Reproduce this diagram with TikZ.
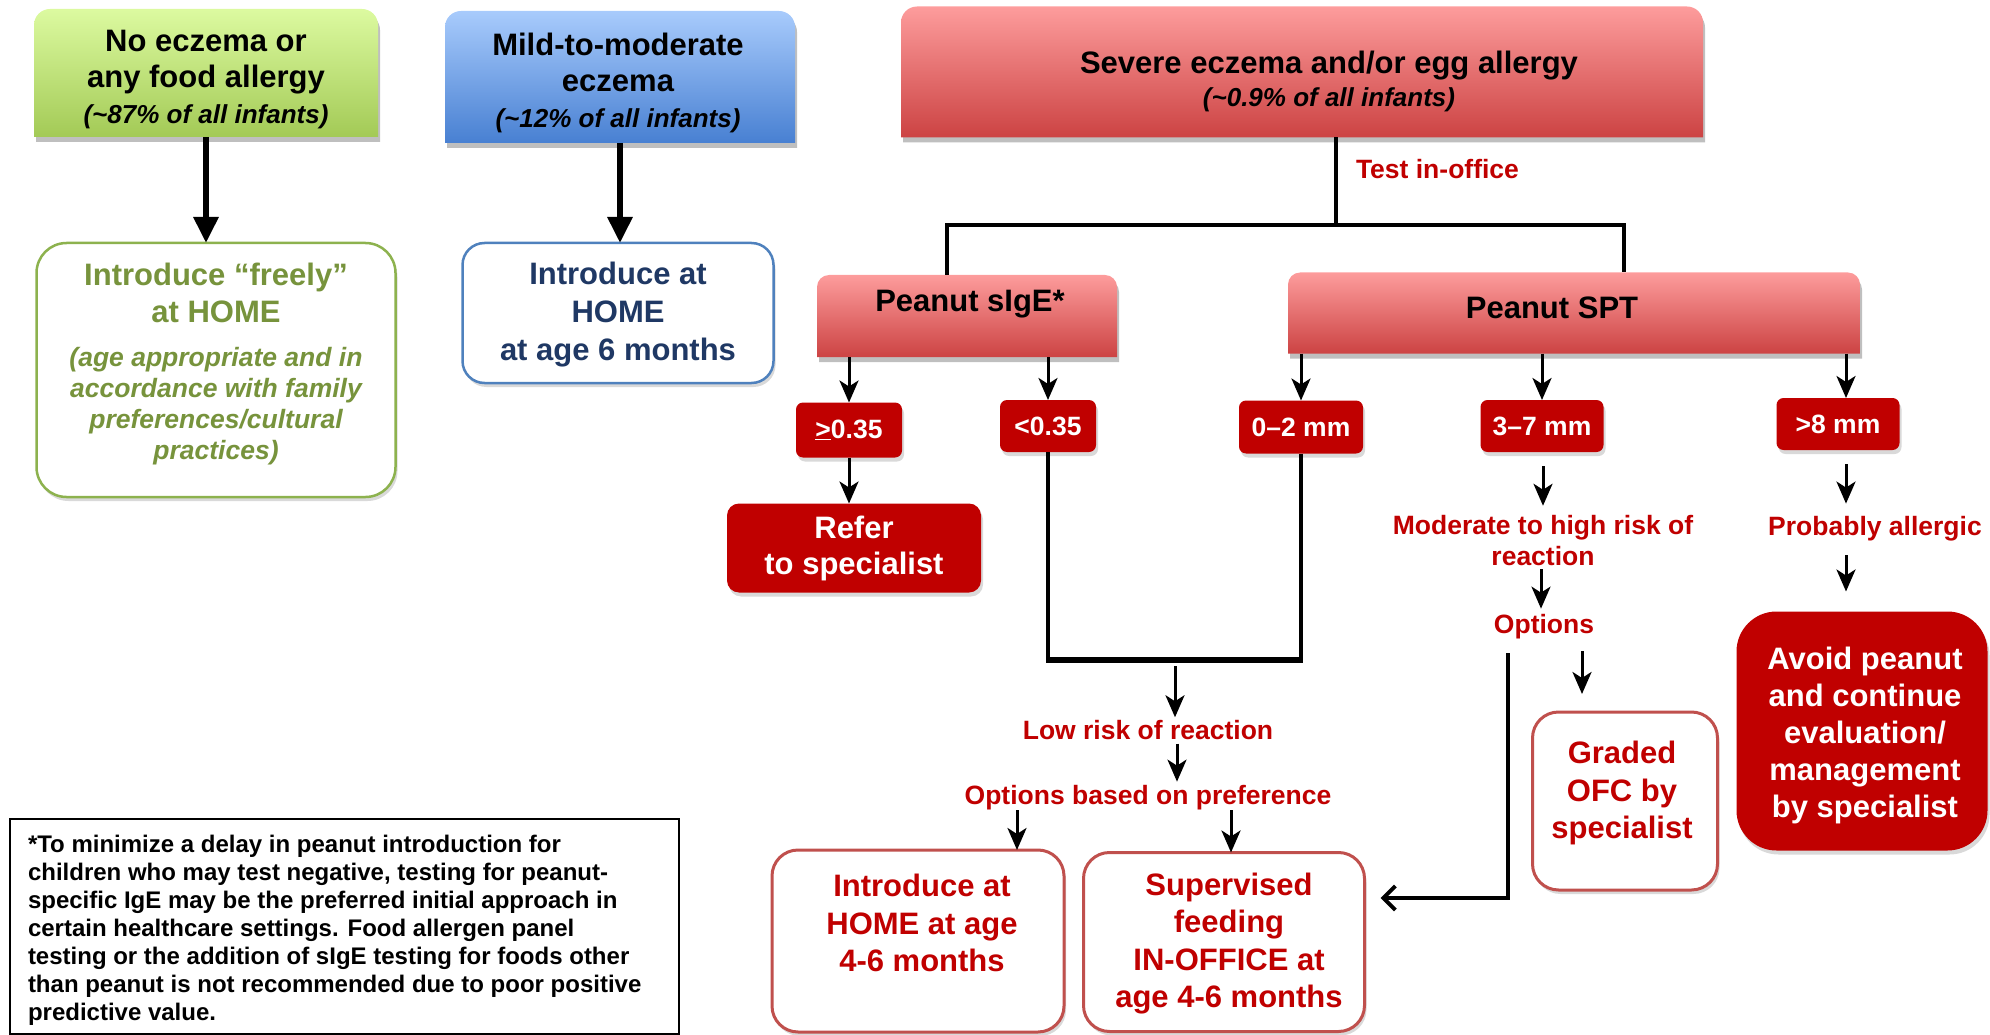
\documentclass[tikz,border=0pt]{standalone}
\usepackage{fontspec}
\setmainfont{Liberation Sans}
\usetikzlibrary{arrows.meta,shadows,calc}

\definecolor{dred}{HTML}{C00000}
\definecolor{bred}{HTML}{C0504D}
\definecolor{olive}{HTML}{77933C}
\definecolor{navy}{HTML}{1F3864}
\definecolor{gtop}{HTML}{DCFAA0}
\definecolor{gbot}{HTML}{A3CA56}
\definecolor{btop}{HTML}{A8CBFC}
\definecolor{bbot}{HTML}{4880D2}
\definecolor{rtop}{HTML}{FD9C9C}
\definecolor{rbot}{HTML}{CC4343}
\definecolor{gline}{HTML}{8DB24E}
\definecolor{bline}{HTML}{4F81BD}

\begin{document}
\begin{tikzpicture}[x=1pt,y=-1pt,
  every node/.style={inner sep=0pt,outer sep=0pt},
  hidden/.style={draw=none,fill=none,rectangle},
  shad/.style={drop shadow={shadow xshift=2pt,shadow yshift=-5pt,opacity=0.25,fill=black}},
  lshad/.style={drop shadow={shadow xshift=2pt,shadow yshift=-4pt,opacity=0.15,fill=black}},
  big/.style={font=\bfseries\fontsize{31}{36}\selectfont,align=center},
  sml/.style={font=\bfseries\fontsize{26.5}{31}\selectfont,align=center},
  redlab/.style={sml,text=dred},
  darkbox/.style={rectangle,fill=dred,text=white,rounded corners=7pt,lshad},
  outbox/.style={rectangle,draw=bred,line width=3pt,fill=white,rounded corners=26pt,lshad},
  line/.style={line width=4pt,black},
  arr/.style={line width=3pt,black,-{Stealth[length=22pt,width=19pt,inset=6pt]}},
  bigarr/.style={line width=6pt,black,-{Triangle[length=26pt,width=24pt]}},
]
\useasboundingbox (0,0) rectangle (1990,1035);

% ---------- gradient boxes ----------
\node[hidden,minimum width=344pt,minimum height=128pt] (g1) at (206,73) {};
\shade[shad,top color=gtop,bottom color=gbot,rounded corners=16pt]
  (g1.south west) -- (g1.north west) -- (g1.north east) -- (g1.south east);
\node[big] (g1t) at (206,80) {No eczema or\\any food allergy\\{\itshape\fontsize{26}{30}\selectfont (\textasciitilde87\% of all infants)}};

\node[hidden,minimum width=350pt,minimum height=132pt] (b1) at (620,77) {};
\shade[shad,top color=btop,bottom color=bbot,rounded corners=16pt]
  (b1.south west) -- (b1.north west) -- (b1.north east) -- (b1.south east);
\node[big] (b1t) at (618,83) {Mild-to-moderate\\eczema\\{\itshape\fontsize{26}{30}\selectfont (\textasciitilde12\% of all infants)}};

\node[hidden,minimum width=802pt,minimum height=131pt] (sev) at (1302,72) {};
\shade[shad,top color=rtop,bottom color=rbot,rounded corners=16pt]
  (sev.south west) -- (sev.north west) -- (sev.north east) -- (sev.south east);
\node[big,align=center] (sevt) at (1329,81) {Severe eczema and/or egg allergy\\[-3pt]{\itshape\fontsize{26}{30}\selectfont (\textasciitilde0.9\% of all infants)}};

\node[hidden,minimum width=300pt,minimum height=82pt] (sige) at (967,316) {};
\shade[shad,top color=rtop,bottom color=rbot,rounded corners=12pt]
  (sige.south west) -- (sige.north west) -- (sige.north east) -- (sige.south east);
\node[big] (siget) at (970,304) {Peanut sIgE*};

\node[hidden,minimum width=572pt,minimum height=81pt] (spt) at (1574,313) {};
\shade[shad,top color=rtop,bottom color=rbot,rounded corners=12pt]
  (spt.south west) -- (spt.north west) -- (spt.north east) -- (spt.south east);
\node[big] (sptt) at (1552,308) {Peanut SPT};

% ---------- left outcome boxes ----------
\node[rectangle,draw=gline,line width=2.5pt,fill=white,rounded corners=30pt,lshad,
      minimum width=359pt,minimum height=254pt] (intro) at (216,370) {};
\node[big,text=olive,font=\bfseries\fontsize{31}{37}\selectfont] (introt) at (216,293) {Introduce “freely”\\at HOME};
\node[sml,text=olive,font=\bfseries\itshape\fontsize{26.5}{31}\selectfont] (introi) at (216,406)
  {(age appropriate and in\\accordance with family\\preferences/cultural\\practices)};

\node[rectangle,draw=bline,line width=2.5pt,fill=white,rounded corners=22pt,lshad,
      minimum width=311pt,minimum height=140pt] (navy) at (618,313) {};
\node[big,text=navy,font=\bfseries\fontsize{31}{38}\selectfont] (navyt) at (618,315) {Introduce at\\HOME\\at age 6 months};

\draw[bigarr] (g1.south) -- (g1.south |- intro.north);
\draw[bigarr] (b1.south) -- (b1.south |- navy.north);

% ---------- test label and tree ----------
\node[redlab,anchor=west] (test) at (1356,169) {Test in-office};
\coordinate (tk) at (1336,225);
\coordinate (bl) at (947,225);
\coordinate (br) at (1624,225);
\draw[line] (sev.south -| tk) -- (tk);
\draw[line] (sige.north -| bl) -- (bl) -- (br) -- (spt.north -| br);

% ---------- small result boxes ----------
\node[darkbox,sml,minimum width=106pt,minimum height=55pt] (ge) at (849,430) {\underline{>}0.35};
\node[darkbox,sml,minimum width=96pt,minimum height=52pt] (lt) at (1048,426) {<0.35};
\node[darkbox,sml,minimum width=124pt,minimum height=53pt] (z2) at (1301,427) {\raisebox{-3pt}{0–2 mm}};
\node[darkbox,sml,minimum width=123pt,minimum height=52pt] (t37) at (1542,426) {3–7 mm};
\node[darkbox,sml,minimum width=123pt,minimum height=52pt] (g8) at (1838,424) {>8 mm};
\coordinate (xg) at (1846,0);

\draw[arr] (sige.south -| ge) -- (ge.north);
\draw[arr] (sige.south -| lt) -- (lt.north);
\draw[arr] (spt.south -| z2) -- (z2.north);
\draw[arr] (spt.south -| t37) -- (t37.north);
\draw[arr] (spt.south -| xg) -- (g8.north -| xg);

% refer
\node[darkbox,big,rounded corners=12pt,minimum width=254pt,minimum height=89pt] (refer) at (854,548) {Refer\\to specialist};
\draw[arr] (ge.south) -- (ge.south |- refer.north);

% low-risk branch
\coordinate (jn) at (1175,660);
\draw[line,line width=3.5pt] (lt.south) -- (lt.south |- jn);
\draw[line,line width=3.5pt] (z2.south) -- (z2.south |- jn);
\draw[line width=6pt] ([xshift=-1.75pt]lt.south |- jn) -- ([xshift=1.75pt]z2.south |- jn);
\node[redlab] (low) at (1148,730) {Low risk of reaction};
\node[redlab] (opts) at (1148,798) {Options based on preference};
\draw[arr,shorten <=6pt,shorten >=3pt] (jn) -- (jn |- low.north);
\coordinate (xl) at (1177,0);
\draw[arr,shorten <=4pt,shorten >=4pt] (low.south -| xl) -- (opts.north -| xl);

\node[outbox,minimum width=292pt,minimum height=182pt] (home) at (918,941) {};
\node[big,text=dred,font=\bfseries\fontsize{31}{37.5}\selectfont] (homet) at (922,923) {Introduce at\\HOME at age\\4-6 months};
\node[outbox,minimum width=281pt,minimum height=179pt] (sup) at (1224,942) {};
\node[big,text=dred,font=\bfseries\fontsize{31}{37.5}\selectfont] (supt) at (1229,943.5) {Supervised\\feeding\\IN-OFFICE at\\age 4-6 months};
\coordinate (xa) at (1017,0);
\coordinate (xb) at (1231,0);
\draw[arr] (opts.south -| xa) -- (home.north -| xa);
\draw[arr] (opts.south -| xb) -- (sup.north -| xb);

% 3-7 mm branch
\node[redlab] (mod) at (1543,541) {Moderate to high risk of\\reaction};
\node[redlab] (opt2) at (1544,627) {Options};
\draw[arr,shorten <=14pt,shorten >=10pt] (t37.south -| mod) -- (mod.north);
\coordinate (xm) at (1541,0);
\draw[arr,shorten <=3pt,shorten >=6pt] (mod.south -| xm) -- (opt2.north -| xm);
\node[outbox,minimum width=185pt,minimum height=178pt] (ofc) at (1625,801) {};
\node[big,text=dred,font=\bfseries\fontsize{31}{37.5}\selectfont] (ofct) at (1622,793) {Graded\\OFC by\\specialist};
\coordinate (xo) at (1582,0);
\draw[arr,shorten <=12pt,shorten >=18pt] (opt2.south -| xo) -- (ofc.north -| xo);
\coordinate (cr) at (1508,898);
\draw[line width=4pt,-{Straight Barb[length=12pt,width=24pt]}]
  ([yshift=-14pt]opt2.south -| cr) -- (cr) -- ([xshift=16pt]sup.east |- cr);

% >8 mm branch
\node[redlab] (prob) at (1875,529) {Probably allergic};
\draw[arr,shorten <=14pt,shorten >=13pt] (g8.south -| xg) -- (prob.north -| xg);
\node[darkbox,big,rounded corners=40pt,minimum width=251pt,minimum height=239pt] (avoid) at (1862,731) {};
\node[big,text=white,font=\bfseries\fontsize{31}{37}\selectfont] (avoidt) at (1865,735) {Avoid peanut\\and continue\\evaluation/\\management\\by specialist};
\draw[arr,shorten <=14pt,shorten >=20pt] (prob.south -| xg) -- (avoid.north -| xg);

% footnote
\node[rectangle,draw=black,line width=1.5pt,minimum width=669pt,minimum height=215pt] (fn) at (344.5,926.5) {};
\node[anchor=west,align=left,font=\bfseries\fontsize{24}{28}\selectfont] (fnt) at (28,930)
 {*To minimize a delay in peanut introduction for\\
  children who may test negative, testing for peanut-\\
  specific IgE may be the preferred initial approach in\\
  certain healthcare settings. Food allergen panel\\
  testing or the addition of sIgE testing for foods other\\
  than peanut is not recommended due to poor positive\\
  predictive value.};
\end{tikzpicture}
\end{document}
